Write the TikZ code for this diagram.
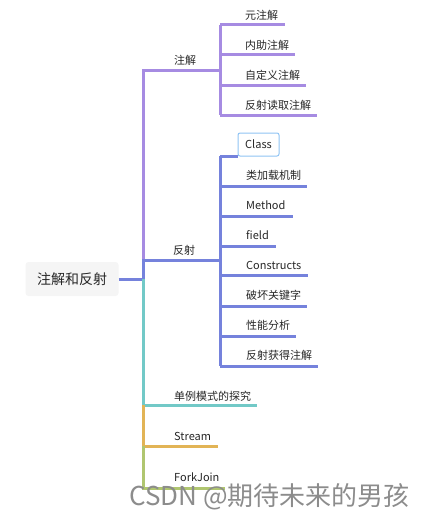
\documentclass[tikz,border=0pt]{standalone}
\usepackage{fontspec}
\setmainfont{Noto Sans CJK SC}
\begin{document}
\begin{tikzpicture}[x=1pt,y=-1pt,
  br/.style={line width=3pt},
  lab/.style={anchor=west,inner sep=0pt,font=\fontsize{11}{13}\selectfont,text=black!85},
  rootbox/.style={fill=black!4,rounded corners=3pt,minimum width=93pt,minimum height=34pt,inner sep=0pt,font=\fontsize{14}{16}\selectfont,text=black!85},
  classbox/.style={draw=cBox,line width=1pt,fill=white,rounded corners=2pt,minimum width=41pt,minimum height=23pt,inner sep=0pt,font=\fontsize{11}{13}\selectfont,text=black!85}]
\definecolor{cPur}{RGB}{166,139,226}
\definecolor{cBlu}{RGB}{117,130,220}
\definecolor{cTea}{RGB}{114,201,199}
\definecolor{cOra}{RGB}{226,180,86}
\definecolor{cGre}{RGB}{176,198,112}
\definecolor{cBox}{RGB}{144,196,244}
\useasboundingbox (0,0) rectangle (432,519);

% coordinates
\coordinate (t0) at (143,279);
\coordinate (tR) at (143,260);
\coordinate (tS) at (143,405);
\coordinate (tT) at (143,446);
\coordinate (tF) at (143,488);
\coordinate (jA) at (220,70);
\coordinate (jR) at (220,260);
\coordinate (a1) at (220,25);
\coordinate (a4) at (220,115);
\coordinate (r0) at (220,156);
\coordinate (r8) at (220,366);

% nodes
\node[rootbox] (root) at (72,279) {注解和反射};
\node[lab] (nA) at (174,60) {注解};
\node[lab] (nR) at (173,250) {反射};
\node[lab] (nS) at (174,396) {单例模式的探究};
\node[lab] (nT) at (174,436) {Stream};
\node[lab] (nF) at (174,477) {ForkJoin};

\node[lab] (a1n) at (245,15) {元注解};
\node[lab] (a2n) at (245,45) {内助注解};
\node[lab] (a3n) at (245,75) {自定义注解};
\node[lab] (a4n) at (245,105) {反射读取注解};

\node[lab] (r1n) at (246,175) {类加载机制};
\node[lab] (r2n) at (246,205) {Method};
\node[lab] (r3n) at (246,235) {field};
\node[lab] (r4n) at (246,265) {Constructs};
\node[lab] (r5n) at (246,295) {破坏关键字};
\node[lab] (r6n) at (246,325) {性能分析};
\node[lab] (r7n) at (246,355) {反射获得注解};

% connectors
\draw[br,cPur] (tR) |- (jA);
\draw[br,cPur] (a1) -- (a4);
\draw[br,cPur] (a1) -- (285,25);
\draw[br,cPur] (220,55) -- (295,55);
\draw[br,cPur] (220,85) -- (306,85);
\draw[br,cPur] (a4) -- (317,115);

\draw[br,cBlu] (root.east) -- (t0) -- (tR) -- (jR);
\draw[br,cBlu] (r0) -- (r8);
\draw[br,cBlu] (r0) -- (238,156);
\draw[br,cBlu] (220,186) -- (307,186);
\draw[br,cBlu] (220,216) -- (293,216);
\draw[br,cBlu] (220,246) -- (276,246);
\draw[br,cBlu] (220,275) -- (308,275);
\draw[br,cBlu] (220,306) -- (307,306);
\draw[br,cBlu] (220,336) -- (296,336);
\draw[br,cBlu] (r8) -- (318,366);

\draw[br,cTea] (t0) -- (tS) -- (257,405);
\draw[br,cOra] (tS) -- (tT) -- (218,446);
\draw[br,cGre] (tT) -- (tF) -- (225,488);

\node[classbox] (cls) at (258.5,144.5) {Class};

\node[anchor=base west,inner sep=0pt,font=\fontsize{26}{28}\selectfont,text=black!45] (wm) at (129,505) {CSDN @期待未来的男孩};
\end{tikzpicture}
\end{document}
